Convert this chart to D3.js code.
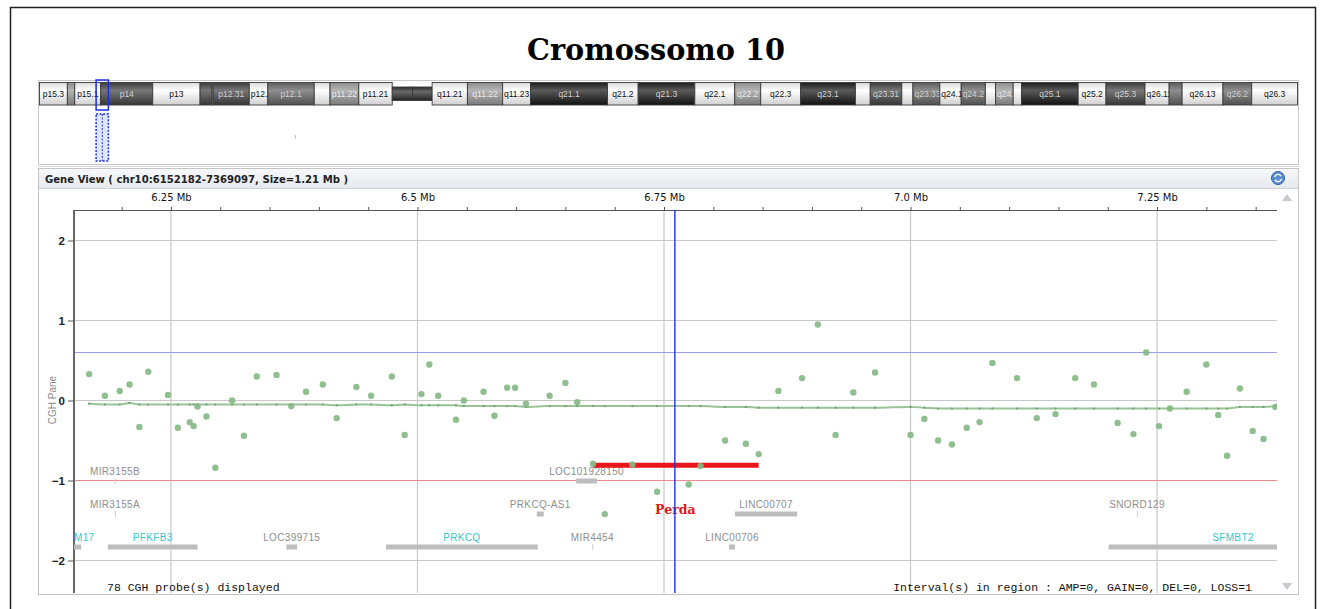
<!DOCTYPE html>
<html>
<head>
<meta charset="utf-8">
<script src="https://cdn.jsdelivr.net/npm/d3@7"></script>
<style>
  body { margin: 0; background: #fff; }
  svg { display: block; }
</style>
</head>
<body>
<svg id="chart"></svg>
<script>
// probe positions (Mb) and CGH log ratios
const probeMb = [6.167, 6.183, 6.198, 6.208, 6.218, 6.227, 6.247, 6.257, 6.269, 6.273,
  6.277, 6.286, 6.295, 6.312, 6.324, 6.337, 6.357, 6.372, 6.387, 6.404,
  6.418, 6.438, 6.453, 6.474, 6.487, 6.504, 6.512, 6.521, 6.539, 6.547,
  6.567, 6.578, 6.591, 6.599, 6.610, 6.634, 6.650, 6.662, 6.678, 6.690,
  6.718, 6.743, 6.775, 6.787, 6.812, 6.833, 6.846, 6.866, 6.890, 6.906,
  6.924, 6.942, 6.964, 7.000, 7.014, 7.028, 7.042, 7.057, 7.070, 7.083,
  7.108, 7.128, 7.147, 7.167, 7.186, 7.210, 7.226, 7.239, 7.252, 7.263,
  7.280, 7.300, 7.312, 7.321, 7.334, 7.347, 7.358, 7.370];
const probeRatio = [0.33, 0.06, 0.12, 0.20, -0.33, 0.36, 0.07, -0.34, -0.27, -0.32,
  -0.075, -0.20, -0.84, 0.0, -0.44, 0.30, 0.32, -0.07, 0.11, 0.20,
  -0.22, 0.17, 0.06, 0.30, -0.43, 0.08, 0.45, 0.06, -0.24, 0.0,
  0.11, -0.19, 0.16, 0.16, -0.04, 0.06, 0.22, -0.02, -0.79, -1.42,
  -0.80, -1.14, -1.05, -0.82, -0.50, -0.54, -0.67, 0.12, 0.28, 0.95,
  -0.43, 0.10, 0.35, -0.43, -0.23, -0.50, -0.55, -0.34, -0.27, 0.47,
  0.28, -0.22, -0.17, 0.28, 0.20, -0.28, -0.42, 0.60, -0.32, -0.10,
  0.11, 0.45, -0.18, -0.69, 0.15, -0.38, -0.48, -0.08];
// smoothed (moving average) value at each probe
const probeTrend = [-0.04, -0.05, -0.05, -0.03, -0.05, -0.05, -0.05, -0.05, -0.05, -0.05,
  -0.05, -0.05, -0.05, -0.05, -0.05, -0.05, -0.05, -0.05, -0.05, -0.05,
  -0.06, -0.05, -0.05, -0.06, -0.05, -0.06, -0.06, -0.06, -0.06, -0.07,
  -0.07, -0.07, -0.07, -0.07, -0.08, -0.07, -0.07, -0.07, -0.07, -0.07,
  -0.07, -0.07, -0.07, -0.07, -0.08, -0.08, -0.09, -0.09, -0.09, -0.09,
  -0.09, -0.09, -0.09, -0.08, -0.09, -0.1, -0.1, -0.1, -0.1, -0.1,
  -0.1, -0.1, -0.1, -0.1, -0.1, -0.1, -0.1, -0.1, -0.1, -0.1,
  -0.1, -0.1, -0.1, -0.1, -0.08, -0.08, -0.08, -0.07];

// loss interval
const lossStart = 6.678, lossEnd = 6.846, lossValue = -0.81, lossLabel = "Perda";
const cursorMb = 6.761;
const gainThreshold = 0.6, lossThreshold = -1;

// genes
const geneNames = ["M17", "PFKFB3", "LOC399715", "PRKCQ", "LOC101928150", "PRKCQ-AS1", "MIR4454",
  "LINC00707", "LINC00706", "SNORD129", "SFMBT2", "MIR3155B", "MIR3155A"];
const geneStart = [6.10, 6.186, 6.367, 6.468, 6.661, 6.621, 6.6772, 6.822, 6.816, 7.2296, 7.201, 6.1931, 6.1931];
const geneEnd = [6.159, 6.277, 6.378, 6.622, 6.682, 6.628, 6.6775, 6.885, 6.822, 7.2299, 7.453, 6.1934, 6.1934];
const geneRow = [2, 2, 2, 2, 0, 1, 2, 1, 2, 1, 2, 0, 1];
const geneRefSeq = [1, 1, 0, 1, 0, 0, 0, 0, 0, 0, 1, 0, 0];

// axis ticks
const xMajor = [6.25, 6.5, 6.75, 7.0, 7.25];
const xMajorLabels = ["6.25 Mb", "6.5 Mb", "6.75 Mb", "7.0 Mb", "7.25 Mb"];
const xMinor = [6.2, 6.25, 6.3, 6.35, 6.4, 6.45, 6.5, 6.55, 6.6, 6.65, 6.7, 6.75, 6.8, 6.85,
  6.9, 6.95, 7.0, 7.05, 7.1, 7.15, 7.2, 7.25, 7.3, 7.35];
const yTicks = [2, 1, 0, -1, -2];

// chromosome 10 ideogram bands (Mb)
const bandNames = ["p15.3", "p15.2", "p15.1", "p14", "p13", "p12.33", "p12.32", "p12.31", "p12.2", "p12.1",
  "p11.23", "p11.22", "p11.21", "p11.1", "q11.1", "q11.21", "q11.22", "q11.23", "q21.1", "q21.2",
  "q21.3", "q22.1", "q22.2", "q22.3", "q23.1", "q23.2", "q23.31", "q23.32", "q23.33", "q24.1",
  "q24.2", "q24.31", "q24.32", "q24.33", "q25.1", "q25.2", "q25.3", "q26.11", "q26.12", "q26.13",
  "q26.2", "q26.3"];
const bandStart = [0, 3.0, 3.8, 6.6, 12.2, 17.3, 18.6, 18.7, 22.6, 24.6,
  29.6, 31.3, 34.4, 38.0, 40.2, 42.3, 46.1, 49.9, 52.9, 61.2,
  64.5, 70.6, 74.9, 77.7, 82.0, 87.9, 89.5, 92.9, 94.1, 97.0,
  99.3, 101.9, 103.0, 104.9, 105.8, 111.9, 114.9, 119.1, 121.7, 123.1,
  127.5, 130.6];
const bandEnd = bandStart.slice(1).concat([135.53]);
const bandStain = ["gneg", "gpos25", "gneg", "gpos75", "gneg", "gpos75", "gneg", "gpos75", "gneg", "gpos50",
  "gneg", "gpos25", "gneg", "acen", "acen", "gneg", "gpos25", "gneg", "gpos100", "gneg",
  "gpos100", "gneg", "gpos25", "gneg", "gpos100", "gneg", "gpos75", "gneg", "gpos50", "gneg",
  "gpos50", "gneg", "gpos25", "gneg", "gpos100", "gneg", "gpos75", "gneg", "gpos50", "gneg",
  "gpos50", "gneg"];
const viewStart = 6.152182, viewEnd = 7.369097;

const width = 1324, height = 609;
const svg = d3.select("#chart").attr("width", width).attr("height", height);
const defs = svg.append("defs");

// outer frame
svg.append("rect").attr("x", 10.5).attr("y", 7.5).attr("width", 1305).attr("height", 640)
  .attr("fill", "none").attr("stroke", "#222").attr("stroke-width", 1.5);

svg.append("text").attr("x", 656).attr("y", 60).attr("text-anchor", "middle")
  .attr("font-family", "DejaVu Serif, serif").attr("font-weight", "bold").attr("font-size", 30)
  .attr("textLength", 258).attr("lengthAdjust", "spacingAndGlyphs")
  .text("Cromossomo 10");

// ---------- ideogram ----------
const ideo = svg.append("g");
ideo.append("rect").attr("x", 38.5).attr("y", 80.5).attr("width", 1260).attr("height", 84)
  .attr("fill", "#fff").attr("stroke", "#c8c8c8");
ideo.append("line").attr("x1", 38).attr("x2", 1299).attr("y1", 166.5).attr("y2", 166.5).attr("stroke", "#d8d8d8");

const stainColors = {
  gneg: ["#d9d9d9", "#ffffff", "#d0d0d0"],
  gpos25: ["#8c8c8c", "#b4b4b4", "#7a7a7a"],
  gpos50: ["#5c5c5c", "#8e8e8e", "#505050"],
  gpos75: ["#3c3c3c", "#777777", "#353535"],
  gpos100: ["#1c1c1c", "#5a5a5a", "#121212"],
  acen: ["#2c2c2c", "#6a6a6a", "#222222"]
};
Object.keys(stainColors).forEach(k => {
  const g = defs.append("linearGradient").attr("id", "g-" + k)
    .attr("x1", 0).attr("x2", 0).attr("y1", 0).attr("y2", 1);
  g.append("stop").attr("offset", "0%").attr("stop-color", stainColors[k][0]);
  g.append("stop").attr("offset", "35%").attr("stop-color", stainColors[k][1]);
  g.append("stop").attr("offset", "100%").attr("stop-color", stainColors[k][2]);
});

const ix = d3.scaleLinear().domain([0, 135.53]).range([39.5, 1297.5]);
const bands = bandNames.map((n, i) => ({ name: n, start: bandStart[i], end: bandEnd[i], stain: bandStain[i], i }));

const bandG = ideo.selectAll("g.band").data(bands).join("g").attr("class", "band");
bandG.append("clipPath").attr("id", d => "bc" + d.i)
  .append("rect").attr("x", d => ix(d.start)).attr("y", 82).attr("width", d => ix(d.end) - ix(d.start)).attr("height", 23);
bandG.append("rect")
  .attr("x", d => ix(d.start))
  .attr("y", d => d.stain === "acen" ? 87 : 82.5)
  .attr("width", d => ix(d.end) - ix(d.start))
  .attr("height", d => d.stain === "acen" ? 13.5 : 22.5)
  .attr("fill", d => `url(#g-${d.stain})`)
  .attr("stroke", "#3a3a3a").attr("stroke-width", 0.9);
bandG.filter(d => d.stain !== "acen" && ix(d.end) - ix(d.start) > 16)
  .append("text")
  .attr("clip-path", d => `url(#bc${d.i})`)
  .attr("font-family", "Liberation Sans, Arial, sans-serif").attr("font-size", 8.5)
  .attr("fill", d => d.stain === "gneg" ? "#111" : (d.stain === "gpos25" ? "#e8e8e8" : "#cfcfcf"))
  .attr("y", 97)
  .each(function (d) {
    const t = d3.select(this).text(d.name);
    const w = this.getComputedTextLength();
    const bw = ix(d.end) - ix(d.start);
    if (w + 2 < bw) t.attr("x", (ix(d.start) + ix(d.end)) / 2).attr("text-anchor", "middle");
    else t.attr("x", ix(d.start) + 1.5);
  });

// view window markers
ideo.append("rect").attr("x", ix(viewStart) - 0.5).attr("y", 80).attr("width", ix(viewEnd) - ix(viewStart) + 1).attr("height", 30)
  .attr("fill", "none").attr("stroke", "#1f2fe0").attr("stroke-width", 1.5);
ideo.append("rect").attr("x", ix(viewStart) - 0.5).attr("y", 114).attr("width", ix(viewEnd) - ix(viewStart) + 1).attr("height", 47)
  .attr("fill", "#dfe6ff").attr("stroke", "#1f2fe0").attr("stroke-width", 1.5).attr("stroke-dasharray", "2,1.5");
ideo.append("line").attr("x1", (ix(viewStart) + ix(viewEnd)) / 2).attr("x2", (ix(viewStart) + ix(viewEnd)) / 2)
  .attr("y1", 114).attr("y2", 161).attr("stroke", "#1f2fe0").attr("stroke-dasharray", "2,1.5");
ideo.append("line").attr("x1", 295.5).attr("x2", 295.5).attr("y1", 135).attr("y2", 139).attr("stroke", "#b8ccb8");

// ---------- gene view panel ----------
const panel = svg.append("g");
panel.append("rect").attr("x", 38.5).attr("y", 168.5).attr("width", 1260).attr("height", 426)
  .attr("fill", "#fff").attr("stroke", "#c4c4c4");
const hg = defs.append("linearGradient").attr("id", "hdr").attr("x1", 0).attr("x2", 0).attr("y1", 0).attr("y2", 1);
hg.append("stop").attr("offset", "0%").attr("stop-color", "#f7f8fa");
hg.append("stop").attr("offset", "100%").attr("stop-color", "#e6e9ed");
panel.append("rect").attr("x", 39).attr("y", 169).attr("width", 1259).attr("height", 19).attr("fill", "url(#hdr)");
panel.append("line").attr("x1", 39).attr("x2", 1298).attr("y1", 188.5).attr("y2", 188.5).attr("stroke", "#d0d4d8");
panel.append("text").attr("x", 45).attr("y", 183)
  .attr("font-family", "DejaVu Sans, Verdana, sans-serif").attr("font-weight", "bold").attr("font-size", 11)
  .attr("fill", "#222").attr("textLength", 303).attr("lengthAdjust", "spacingAndGlyphs")
  .text("Gene View ( chr10:6152182-7369097, Size=1.21 Mb )");
// refresh icon
const icon = panel.append("g").attr("transform", "translate(1278,178)");
icon.append("circle").attr("r", 6.5).attr("fill", "#5b8fd0").attr("stroke", "#2f5f9f");
icon.append("path").attr("d", "M-3.5,-1 A3.6,3.6 0 0 1 3,-2 M3.5,1 A3.6,3.6 0 0 1 -3,2")
  .attr("fill", "none").attr("stroke", "#fff").attr("stroke-width", 1.4);

// scrollbar arrows
panel.append("path").attr("d", "M1282,201 L1292,201 L1287,194 Z").attr("fill", "#c3cad2");
panel.append("path").attr("d", "M1282,583 L1292,583 L1287,590 Z").attr("fill", "#c3cad2");

// scales
const x = d3.scaleLinear().domain([viewStart, viewEnd]).range([74.5, 1274.5]);
const y = d3.scaleLinear().domain([-2, 2]).range([560.5, 240.5]);
const plotL = 74, plotR = 1277, plotT = 210, plotB = 593;

defs.append("clipPath").attr("id", "plotclip")
  .append("rect").attr("x", plotL).attr("y", plotT).attr("width", plotR - plotL).attr("height", plotB - plotT);

const plot = svg.append("g");
// grid
plot.selectAll("line.vgrid").data(xMajor).join("line").attr("class", "vgrid")
  .attr("x1", d => x(d)).attr("x2", d => x(d)).attr("y1", plotT).attr("y2", plotB)
  .attr("stroke", "#c8c8c8").attr("stroke-width", 1.2);
plot.selectAll("line.hgrid").data(yTicks.filter(d => d !== lossThreshold)).join("line").attr("class", "hgrid")
  .attr("x1", plotL).attr("x2", plotR).attr("y1", d => y(d)).attr("y2", d => y(d))
  .attr("stroke", "#c8c8c8").attr("stroke-width", 1.2);
plot.append("line").attr("x1", plotL).attr("x2", plotR).attr("y1", y(gainThreshold)).attr("y2", y(gainThreshold))
  .attr("stroke", "#9a9cf4").attr("stroke-width", 1);
plot.append("line").attr("x1", plotL).attr("x2", plotR).attr("y1", y(lossThreshold)).attr("y2", y(lossThreshold))
  .attr("stroke", "#ee8a8a").attr("stroke-width", 1);

// axes
const xAxis = d3.axisTop(x).tickValues(xMinor).tickSize(3).tickPadding(6)
  .tickFormat(d => { const k = xMajor.findIndex(m => Math.abs(m - d) < 1e-6); return k >= 0 ? xMajorLabels[k] : ""; });
const xg = plot.append("g").attr("transform", `translate(0,${plotT})`).call(xAxis);
xg.select(".domain").attr("d", `M${plotL},0.5H${plotR}`).attr("stroke", "#555");
xg.selectAll(".tick line").attr("stroke", "#555");
xg.selectAll(".tick text").attr("font-family", "DejaVu Sans, Verdana, sans-serif").attr("font-size", 10).attr("fill", "#111");

const yAxis = d3.axisLeft(y).tickValues(yTicks).tickSize(6).tickPadding(3).tickFormat(d3.format("d"));
const yg = plot.append("g").attr("transform", `translate(${plotL},0)`).call(yAxis);
yg.select(".domain").attr("d", `M0,${plotT}V${plotB}`).attr("stroke", "#666").attr("stroke-width", 2);
yg.selectAll(".tick line").attr("stroke", "#555");
yg.selectAll(".tick text").attr("font-family", "Liberation Sans, Arial, sans-serif").attr("font-weight", "bold")
  .attr("font-size", 11.5).attr("fill", "#222");

plot.append("text").attr("transform", "translate(56,400) rotate(-90)").attr("text-anchor", "middle")
  .attr("font-family", "Liberation Sans, Arial, sans-serif").attr("font-size", 10).attr("fill", "#8a8a8a")
  .text("CGH Pane");

const inner = plot.append("g").attr("clip-path", "url(#plotclip)");

// genes
const genes = geneNames.map((n, i) => ({ name: n, start: geneStart[i], end: geneEnd[i], row: geneRow[i], ref: geneRefSeq[i] }));
const rowY = r => 481 + r * 33;
const geneG = inner.selectAll("g.gene").data(genes).join("g").attr("class", "gene");
geneG.append("rect")
  .attr("x", d => x(d.start))
  .attr("y", d => rowY(d.row) - (x(d.end) - x(d.start) < 2 ? 3 : 2.5))
  .attr("width", d => Math.max(1, x(d.end) - x(d.start)))
  .attr("height", d => x(d.end) - x(d.start) < 2 ? 6 : 5)
  .attr("fill", d => x(d.end) - x(d.start) < 2 ? "#cfcfcf" : "#bdbdbd");
geneG.append("text")
  .attr("y", d => rowY(d.row) - 6)
  .attr("font-family", "Liberation Sans, Arial, sans-serif").attr("font-size", 10)
  .attr("letter-spacing", 0.35)
  .attr("fill", d => d.ref ? "#2ec8d2" : "#8e8e8e")
  .attr("text-anchor", "middle")
  .each(function (d) {
    const t = d3.select(this).text(d.name);
    const w = this.getComputedTextLength();
    let cx = x((d.start + d.end) / 2);
    cx = Math.max(plotL + w / 2, Math.min(plotR - w / 2, cx));
    t.attr("x", cx);
  });

// smoothed line
inner.append("path").datum(probeMb.map((m, i) => [m, probeTrend[i]]))
  .attr("d", d3.line().x(d => x(d[0])).y(d => y(d[1])).curve(d3.curveMonotoneX))
  .attr("fill", "none").attr("stroke", "#98c498").attr("stroke-width", 2);
inner.selectAll("circle.trend").data(probeMb.map((m, i) => [m, probeTrend[i]])).join("circle").attr("class", "trend")
  .attr("cx", d => x(d[0])).attr("cy", d => y(d[1])).attr("r", 1.1).attr("fill", "#6f9c6f");

// loss segment
inner.append("line").attr("x1", x(lossStart)).attr("x2", x(lossEnd)).attr("y1", y(lossValue)).attr("y2", y(lossValue))
  .attr("stroke", "#e8161b").attr("stroke-width", 5);

// probes
inner.selectAll("circle.probe").data(probeMb.map((m, i) => [m, probeRatio[i]])).join("circle").attr("class", "probe")
  .attr("cx", d => x(d[0])).attr("cy", d => y(d[1])).attr("r", 3.2)
  .attr("fill", "#86b886").attr("fill-opacity", 0.92);

inner.append("text").attr("x", x((lossStart + lossEnd) / 2) - 0.5).attr("y", 514).attr("text-anchor", "middle")
  .attr("font-family", "DejaVu Serif, serif").attr("font-weight", "bold").attr("font-size", 12.5)
  .attr("fill", "#e0151b").text(lossLabel);

// cursor
inner.append("line").attr("x1", x(cursorMb)).attr("x2", x(cursorMb)).attr("y1", plotT).attr("y2", plotB)
  .attr("stroke", "#2233e6").attr("stroke-width", 1.4);

// footer text
plot.append("text").attr("x", 107).attr("y", 591)
  .attr("font-family", "Courier New, Liberation Mono, monospace").attr("font-size", 11.5).attr("fill", "#111")
  .text("78 CGH probe(s) displayed");
plot.append("text").attr("x", 1252).attr("y", 591).attr("text-anchor", "end")
  .attr("font-family", "Courier New, Liberation Mono, monospace").attr("font-size", 11.5).attr("fill", "#111")
  .text("Interval(s) in region : AMP=0, GAIN=0, DEL=0, LOSS=1");
</script>
</body>
</html>
